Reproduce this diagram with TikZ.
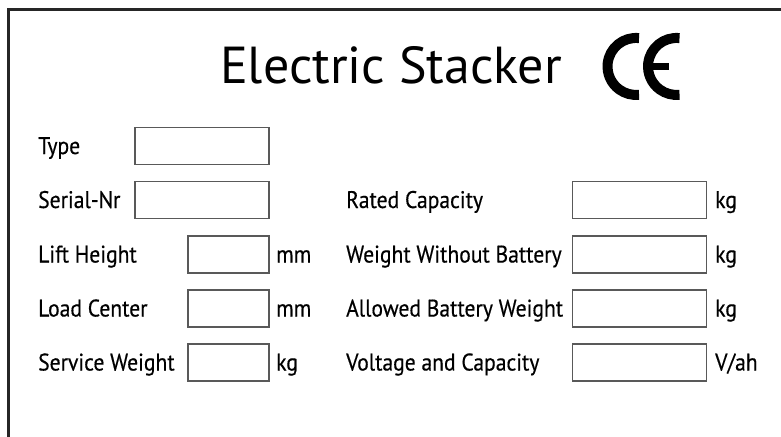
\documentclass[tikz,border=0pt]{standalone}
\usepackage{fontspec}
\setmainfont{PT Sans}
\newfontfamily\platefont[FakeStretch=0.9,FakeBold=0.4]{PT Sans}
\begin{document}
\begin{tikzpicture}%
	[x=1pt, y=-1pt,
	frame/.style={color=black!85, line width=2.4pt},
	cemark/.style={color=black, line width=10pt, line cap=butt},
	field/.style={draw=black!65, line width=1.3pt, minimum width=134pt, minimum height=37pt, inner sep=0pt},
	shortfield/.style={field, minimum width=81pt},
	fieldname/.style={anchor=base west, inner sep=0pt, font=\platefont\fontsize{24}{28}\selectfont},
	fieldunit/.style={fieldname}]
\useasboundingbox (0,0) rectangle (781,436);
%%
%% Drawing the plate border
%%
\draw[frame] (8.5,437) -- (8.5,9.5) -- (782,9.5);
%%
%% Drawing the heading and the CE mark
%%
\node[anchor=base, inner sep=0pt, font=\fontsize{52}{60}\selectfont] (title) at (391,83) {Electric Stacker};
\draw[cemark] (639,38.1) arc[start angle=-84, end angle=-276, radius=28.5];
\draw[cemark] (679.5,38.1) arc[start angle=-84, end angle=-276, radius=28.5];
\draw[cemark, line width=7pt] (651,66.5) -- (669,66.5);
%%
%% Drawing the fields on the left
%%
\node[field] (typebox) at (202,146) {};
\node[field] (serialbox) at (202,200) {};
\node[shortfield] (liftbox) at (228.5,254.5) {};
\node[shortfield] (loadbox) at (228.5,308.5) {};
\node[shortfield] (servicebox) at (228.5,362.5) {};
\node[fieldname] (type) at (38,154) {Type};
\node[fieldname] (serial) at (38,208) {Serial-Nr};
\node[fieldname] (lift) at (38,262.5) {Lift Height};
\node[fieldname] (load) at (38,316.5) {Load Center};
\node[fieldname] (service) at (38,370.5) {Service Weight};
\node[fieldunit] (liftunit) at (276,262.5) {mm};
\node[fieldunit] (loadunit) at (276,316.5) {mm};
\node[fieldunit] (serviceunit) at (276,370.5) {kg};
%%
%% Drawing the fields on the right
%%
\node[field] (ratedbox) at (639.5,200) {};
\node[field] (weightbox) at (639.5,254.5) {};
\node[field] (batterybox) at (639.5,308.5) {};
\node[field] (voltagebox) at (639.5,362.5) {};
\node[fieldname] (rated) at (346,208) {Rated Capacity};
\node[fieldname] (weight) at (346,262.5) {Weight Without Battery};
\node[fieldname] (battery) at (346,316.5) {Allowed Battery Weight};
\node[fieldname] (voltage) at (346,370.5) {Voltage and Capacity};
\node[fieldunit] (ratedunit) at (715,208) {kg};
\node[fieldunit] (weightunit) at (715,262.5) {kg};
\node[fieldunit] (batteryunit) at (715,316.5) {kg};
\node[fieldunit] (voltageunit) at (715,370.5) {V/ah};
%%
\end{tikzpicture}
\end{document}
